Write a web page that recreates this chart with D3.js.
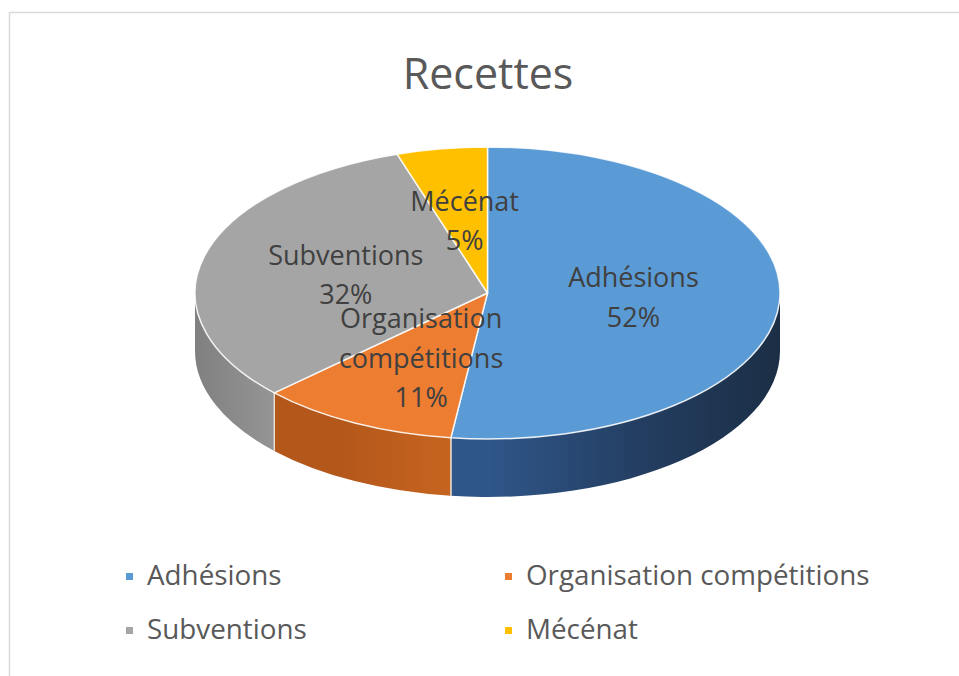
<!DOCTYPE html>
<html><head><meta charset="utf-8">
<script src="https://cdn.jsdelivr.net/npm/d3@7"></script>
<style>html,body{margin:0;padding:0;background:#fff;}svg{display:block;}</style>
</head><body>
<svg id="c" width="959" height="676"></svg>
<script>
const title = "Recettes";
const categories = ["Adhésions", "Organisation compétitions", "Subventions", "Mécénat"];
const labelLines = [["Adhésions"], ["Organisation", "compétitions"], ["Subventions"], ["Mécénat"]];
const values = [52, 11, 32, 5];
const topColors = ["#5b9bd5", "#ed7d31", "#a5a5a5", "#ffc000"];
const sideStops = [
  ["#2f5689", "#243f63", "#1b2e45"],
  ["#b3571a", "#c4621f", "#c86621"],
  ["#808080", "#9a9a9a", "#8a8a8a"],
  ["#c99700", "#d9a300", "#c99700"]
];

const W = 959, H = 676;
const svg = d3.select("#c");
const FONT = "'Open Sans', 'DejaVu Sans', sans-serif";

// chart frame (top & left edges visible)
svg.append("line").attr("x1", 9.5).attr("y1", 12.5).attr("x2", W).attr("y2", 12.5).attr("stroke", "#d9d9d9").attr("stroke-width", 1.5);
svg.append("line").attr("x1", 9.5).attr("y1", 12.5).attr("x2", 9.5).attr("y2", H).attr("stroke", "#d9d9d9").attr("stroke-width", 1.5);

svg.append("text").attr("x", 488).attr("y", 89).attr("text-anchor", "middle")
  .attr("font-family", FONT).attr("font-size", 43).attr("fill", "#595959").text(title);

const cx = 487.5, cy = 293, rx = 292.5, ry = 146, depth = 58;
const total = d3.sum(values);
const pct = d3.scaleLinear().domain([0, total]).range([0, 100]);
const pie = d3.pie().sort(null).startAngle(0).endAngle(2 * Math.PI);
const arcs = pie(values);

const px = a => cx + rx * Math.sin(a);
const py = (a, dz = 0) => cy - ry * Math.cos(a) + dz;

const defs = svg.append("defs");
sideStops.forEach((st, i) => {
  const g = defs.append("linearGradient").attr("id", "side" + i)
    .attr("gradientUnits", "userSpaceOnUse")
    .attr("x1", cx - rx).attr("y1", 0).attr("x2", cx + rx).attr("y2", 0);
  const offs = i === 2 ? [0, 0.17, 0.3] : (i === 1 ? [0.25, 0.4, 0.6] : [0.5, 0.75, 1]);
  st.forEach((c, k) => g.append("stop").attr("offset", offs[k]).attr("stop-color", c));
});

// side walls (front half only)
const lo = Math.PI / 2, hi = 3 * Math.PI / 2;
arcs.forEach((d, i) => {
  const a0 = Math.max(d.startAngle, lo), a1 = Math.min(d.endAngle, hi);
  if (a1 <= a0) return;
  const str = `M${px(a0)},${py(a0)} A${rx},${ry} 0 0 1 ${px(a1)},${py(a1)} L${px(a1)},${py(a1, depth)} A${rx},${ry} 0 0 0 ${px(a0)},${py(a0, depth)} Z`;
  svg.append("path").attr("d", str).attr("fill", `url(#side${i})`).attr("stroke", "none");
  [d.startAngle, d.endAngle].forEach(a => {
    if (a > lo && a < hi) {
      svg.append("line").attr("x1", px(a)).attr("y1", py(a)).attr("x2", px(a)).attr("y2", py(a, depth))
        .attr("stroke", "#f2e6dc").attr("stroke-width", 1.5).attr("stroke-opacity", 0.8);
    }
  });
});

// top faces
arcs.forEach((d, i) => {
  const a0 = d.startAngle, a1 = d.endAngle;
  const large = (a1 - a0) > Math.PI ? 1 : 0;
  const str = `M${cx},${cy} L${px(a0)},${py(a0)} A${rx},${ry} 0 ${large} 1 ${px(a1)},${py(a1)} Z`;
  svg.append("path").attr("d", str).attr("fill", topColors[i])
    .attr("stroke", "#ffffff").attr("stroke-width", 1.5).attr("stroke-opacity", 0.85)
    .attr("stroke-linejoin", "round");
});

// data labels
const lineH = 39.5;
arcs.forEach((d, i) => {
  const m = (d.startAngle + d.endAngle) / 2;
  const lx = cx + rx * 0.5 * Math.sin(m);
  const ly = cy - ry * 0.5 * Math.cos(m);
  const lines = labelLines[i].concat([Math.round(pct(values[i])) + "%"]);
  const n = lines.length;
  const t = svg.append("text").attr("text-anchor", "middle")
    .attr("font-family", FONT).attr("font-size", 27).attr("fill", "#404040");
  lines.forEach((s, k) => {
    t.append("tspan").attr("x", lx)
      .attr("y", ly + (k - (n - 1) / 2) * lineH + 9.5).text(s);
  });
});

// legend
const legX = [126, 505], legY = [585, 639];
categories.forEach((c, i) => {
  const col = i % 2, row = Math.floor(i / 2);
  const g = svg.append("g");
  g.append("rect").attr("x", legX[col]).attr("y", legY[row] - 12).attr("width", 7).attr("height", 7).attr("fill", topColors[i]);
  g.append("text").attr("x", legX[col] + 21).attr("y", legY[row])
    .attr("font-family", FONT).attr("font-size", 27.8).attr("fill", "#595959").text(c);
});
</script>
</body></html>
